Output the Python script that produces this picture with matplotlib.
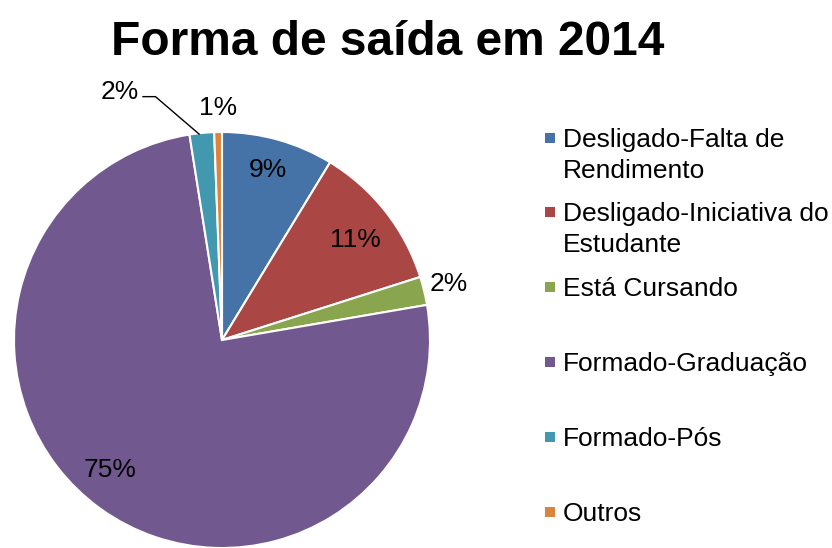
import matplotlib
matplotlib.use("Agg")
import matplotlib.pyplot as plt
from matplotlib.patches import Rectangle

plt.rcParams['font.family'] = ['Liberation Sans', 'DejaVu Sans']

categories = ["Desligado-Falta de\nRendimento", "Desligado-Iniciativa do\nEstudante",
              "Está Cursando", "Formado-Graduação", "Formado-Pós", "Outros"]
values = [8.7, 11.4, 2.2, 75.2, 1.9, 0.6]
pct_labels = ["9%", "11%", "2%", "75%", "2%", "1%"]
colors = ["#4572A7", "#AA4643", "#89A54E", "#71588F", "#4198AF", "#DB843D"]

W, H = 832, 548
fig = plt.figure(figsize=(W / 100, H / 100), dpi=100)

cx, cy, R = 222, 340, 208
ax = fig.add_axes([(cx - R) / W, (H - cy - R) / H, 2 * R / W, 2 * R / H])
ax.pie(values, colors=colors, startangle=90, counterclock=False, radius=1,
       wedgeprops=dict(edgecolor="white", linewidth=1.5))
ax.set_xlim(-1, 1)
ax.set_ylim(-1, 1)
ax.set_aspect("equal")
ax.axis("off")

label_pos = [(0.221, 0.817), (0.64, 0.48), (1.09, 0.27), (-0.54, -0.625),
             (-0.49, 1.19), (-0.02, 1.115)]
for (x, y), t in zip(label_pos, pct_labels):
    ax.text(x, y, t, ha="center", va="center", fontsize=19, color="black", clip_on=False)
ax.plot([-0.38, -0.32, -0.11], [1.17, 1.17, 0.99], color="black", lw=1, clip_on=False)

fig.text(388 / W, 1 - 55 / H, "Forma de saída em 2014", ha="center", va="baseline",
         fontsize=34.5, fontweight="bold")

entry_base = [147, 221, 296, 371, 446, 521]
line_gap = 31
for yb, lab, c in zip(entry_base, categories, colors):
    fig.patches.append(Rectangle((545 / W, 1 - (yb - 4) / H), 10 / W, 10 / H,
                                 transform=fig.transFigure, facecolor=c, edgecolor="none"))
    for k, line in enumerate(lab.split("\n")):
        fig.text(563 / W, 1 - (yb + k * line_gap) / H, line, ha="left", va="baseline",
                 fontsize=19)

fig.savefig("out.png", dpi=100)
